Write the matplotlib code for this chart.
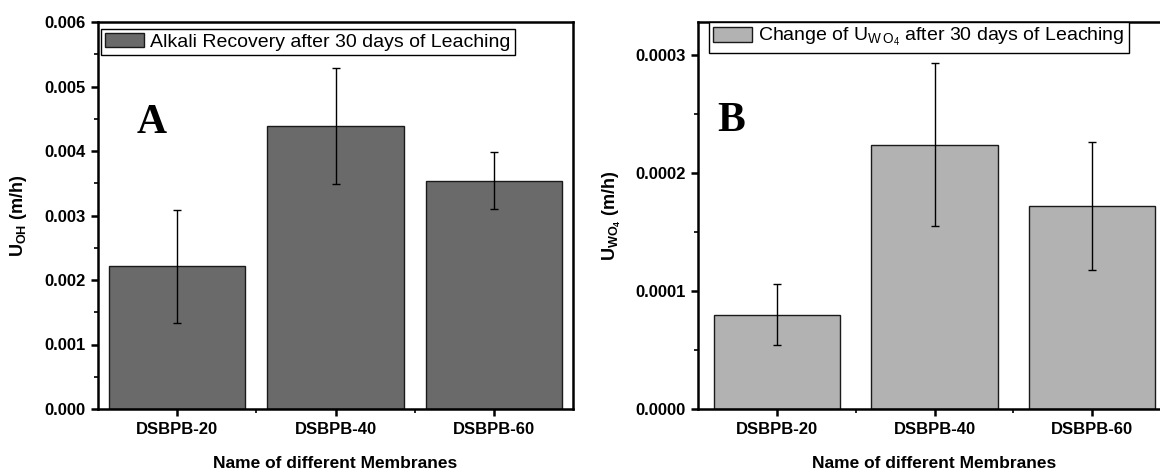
import matplotlib
matplotlib.use("Agg")
import matplotlib.pyplot as plt
from matplotlib.ticker import MultipleLocator, FixedLocator, FormatStrFormatter

plt.rcParams['font.family'] = ['Liberation Sans', 'DejaVu Sans']
plt.rcParams['mathtext.fontset'] = 'custom'
plt.rcParams['mathtext.rm'] = 'Liberation Sans'
plt.rcParams['mathtext.it'] = 'Liberation Sans'
plt.rcParams['mathtext.bf'] = 'Liberation Sans:bold'

categories = ["DSBPB-20", "DSBPB-40", "DSBPB-60"]
oh_values = [0.00221, 0.00439, 0.00354]
oh_errors = [0.00087, 0.00090, 0.00044]
wo4_values = [0.000080, 0.000224, 0.000172]
wo4_errors = [0.000026, 0.000069, 0.000054]

fig = plt.figure(figsize=(11.6, 4.7), dpi=100)
axA = fig.add_axes([98/1160, 61/470, 475/1160, 387/470])
axB = fig.add_axes([698/1160, 61/470, 473/1160, 387/470])

x = [1, 2, 3]

def style(ax):
    for s in ax.spines.values():
        s.set_linewidth(1.8)
    ax.tick_params(axis='both', which='major', direction='out', length=5, width=1.8,
                   labelsize=12, pad=4)
    ax.tick_params(axis='both', which='minor', direction='out', length=3, width=1.2)
    ax.set_xticks(x)
    ax.set_xticklabels(categories, fontweight='bold')
    ax.xaxis.set_minor_locator(FixedLocator([1.5, 2.5]))
    for lab in ax.get_yticklabels():
        lab.set_fontweight('bold')
    ax.set_xlim(0.5, 3.5)
    ax.set_xlabel("Name of different Membranes", fontweight='bold', fontsize=12.5, labelpad=14)

leg_kw = dict(loc='upper left', borderaxespad=0, fancybox=False, edgecolor='black',
              framealpha=1, fontsize=14, handlelength=2.0, handleheight=0.75,
              borderpad=0.22, handletextpad=0.3)
bar_kw = dict(edgecolor='#1a1a1a', linewidth=1.0,
              error_kw=dict(ecolor='black', elinewidth=1.0, capsize=3, capthick=1.0))

# Panel A
axA.bar(x, oh_values, width=0.86, color='#6a6a6a', yerr=oh_errors,
        label="Alkali Recovery after 30 days of Leaching", **bar_kw)
axA.set_ylim(0, 0.006)
axA.yaxis.set_major_locator(MultipleLocator(0.001))
axA.yaxis.set_minor_locator(MultipleLocator(0.0005))
axA.yaxis.set_major_formatter(FormatStrFormatter('%.3f'))
style(axA)
axA.set_ylabel(r"U$_{\mathbf{OH}}$ (m/h)", fontweight='bold', fontsize=13, labelpad=11)
axA.text(0.84, 0.00443, "A", family='Liberation Serif', fontweight='bold', fontsize=30,
         ha='center', va='center')
legA = axA.legend(bbox_to_anchor=(0.006, 0.982), **leg_kw)
legA.get_frame().set_linewidth(1.0)

# Panel B
axB.bar(x, wo4_values, width=0.8, color='#b2b2b2', yerr=wo4_errors,
        label=r"Change of U$_{W\,O_4}$ after 30 days of Leaching", **bar_kw)
axB.set_ylim(0, 0.000328)
axB.yaxis.set_major_locator(MultipleLocator(0.0001))
axB.yaxis.set_minor_locator(MultipleLocator(0.00005))
axB.yaxis.set_major_formatter(FormatStrFormatter('%.4f'))
style(axB)
axB.set_ylabel(r"U$_{\mathbf{WO_4}}$ (m/h)", fontweight='bold', fontsize=13, labelpad=9)
axB.text(0.71, 0.000244, "B", family='Liberation Serif', fontweight='bold', fontsize=30,
         ha='center', va='center')
legB = axB.legend(bbox_to_anchor=(0.023, 1.0), **leg_kw)
legB.get_frame().set_linewidth(1.0)

fig.savefig("out.png", dpi=100)
